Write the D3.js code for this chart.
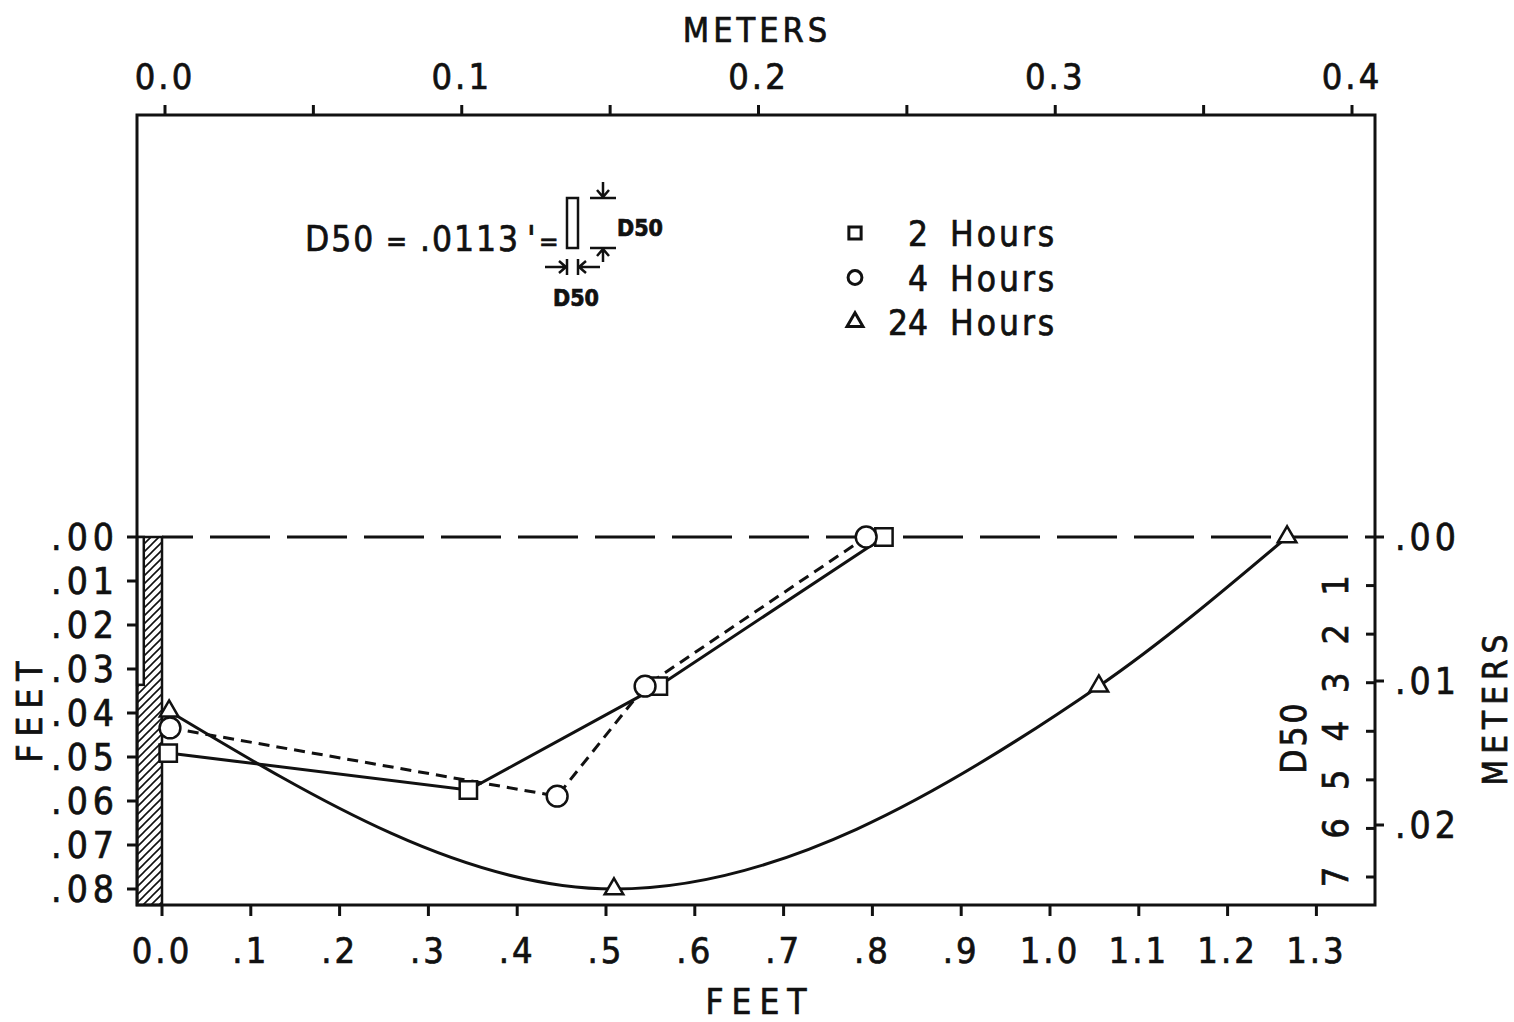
<!DOCTYPE html>
<html>
<head>
<meta charset="utf-8">
<script src="https://cdn.jsdelivr.net/npm/d3@7"></script>
<style>
  body { margin: 0; background: #fff; }
  text { font-family: "DejaVu Sans Condensed", "DejaVu Sans", sans-serif; fill: #111; stroke: #111; stroke-width: 0.7; }
</style>
</head>
<body>
<svg id="chart" width="1514" height="1022"></svg>
<script>

// bottom axis (feet, distance from wall)
var feetTicks = [0, 0.1, 0.2, 0.3, 0.4, 0.5, 0.6, 0.7, 0.8, 0.9, 1.0, 1.1, 1.2, 1.3];
var feetTickLabels = ["0.0", ".1", ".2", ".3", ".4", ".5", ".6", ".7", ".8", ".9", "1.0", "1.1", "1.2", "1.3"];

// top axis (meters)
var meterTicks = [0, 0.05, 0.1, 0.15, 0.2, 0.25, 0.3, 0.35, 0.4];
var meterTickLabels = ["0.0", "", "0.1", "", "0.2", "", "0.3", "", "0.4"];

// left axis (scour depth, feet)
var depthTicks = [0, 0.01, 0.02, 0.03, 0.04, 0.05, 0.06, 0.07, 0.08];
var depthTickLabels = [".00", ".01", ".02", ".03", ".04", ".05", ".06", ".07", ".08"];

// right axis: depth in D50 units and in meters
var d50Ticks = [1, 2, 3, 4, 5, 6, 7];
var depthMeterTicks = [0, 0.01, 0.02];
var depthMeterLabels = [".00", ".01", ".02"];

// scour profiles [distance ft, depth ft]
var hours2 = [[0.007, 0.0491], [0.345, 0.0575], [0.559, 0.0339], [0.813, 0.0]];
var hours4 = [[0.009, 0.0434], [0.445, 0.0589], [0.544, 0.0339], [0.793, 0.0]];
var hours24 = [[0.008, 0.0396], [0.509, 0.0800], [1.055, 0.0339], [1.267, 0.0]];

var legendNames = ["2", "4", "24"];
var wallWidth = 0.028, wallGapWidth = 0.0075, wallGapDepth = 0.0336;

var svg = d3.select("#chart");

var x = d3.scaleLinear().domain([0, 1.3]).range([162, 1316.4]);
var xm = d3.scaleLinear().domain([0, 0.4]).range([165, 1352]);
var y = d3.scaleLinear().domain([0, 0.08]).range([537, 889]);
var yD = d3.scaleLinear().domain([0, 7]).range([537, 877]);
var yM = d3.scaleLinear().domain([0, 0.02]).range([537, 825]);

var frame = { left: 137, right: 1375, top: 115, bottom: 905 };

// hatch pattern for the wall
var defs = svg.append("defs");
var pat = defs.append("pattern")
  .attr("id", "hatch").attr("patternUnits", "userSpaceOnUse")
  .attr("width", 8).attr("height", 8);
pat.append("path").attr("d", "M-2,10 L10,-2 M-2,2 L2,-2 M6,10 L10,6")
  .attr("stroke", "#111").attr("stroke-width", 1.6);

// wall
svg.append("rect")
  .attr("x", x(-wallWidth)).attr("y", y(0))
  .attr("width", x(0) - x(-wallWidth)).attr("height", frame.bottom - y(0))
  .attr("fill", "url(#hatch)").attr("stroke", "#111").attr("stroke-width", 2.5);
svg.append("rect")
  .attr("x", x(-wallWidth)).attr("y", y(0))
  .attr("width", x(-wallWidth + wallGapWidth) - x(-wallWidth)).attr("height", y(wallGapDepth) - y(0))
  .attr("fill", "#fff").attr("stroke", "#111").attr("stroke-width", 2.5);

// original bed level
svg.append("line")
  .attr("x1", x(0)).attr("x2", frame.right).attr("y1", y(0)).attr("y2", y(0))
  .attr("stroke", "#111").attr("stroke-width", 3)
  .attr("stroke-dasharray", "60,17").attr("stroke-dashoffset", 29);

// frame
svg.append("rect")
  .attr("x", frame.left).attr("y", frame.top)
  .attr("width", frame.right - frame.left).attr("height", frame.bottom - frame.top)
  .attr("fill", "none").attr("stroke", "#111").attr("stroke-width", 3);

// bottom axis
var gb = svg.append("g");
gb.selectAll("line").data(feetTicks).enter().append("line")
  .attr("x1", d => x(d)).attr("x2", d => x(d))
  .attr("y1", frame.bottom).attr("y2", frame.bottom + 11)
  .attr("stroke", "#111").attr("stroke-width", 3);
gb.selectAll("text").data(feetTicks).enter().append("text")
  .attr("x", d => x(d)).attr("y", 963)
  .attr("text-anchor", "middle").attr("font-size", 36).attr("letter-spacing", 3)
  .text((d, i) => feetTickLabels[i]);
svg.append("text").attr("x", 760).attr("y", 1014)
  .attr("text-anchor", "middle").attr("font-size", 35).attr("letter-spacing", 8)
  .text("FEET");

// top axis
var gt = svg.append("g");
gt.selectAll("line").data(meterTicks).enter().append("line")
  .attr("x1", d => xm(d)).attr("x2", d => xm(d))
  .attr("y1", frame.top).attr("y2", frame.top - 10)
  .attr("stroke", "#111").attr("stroke-width", 3);
gt.selectAll("text").data(meterTicks).enter().append("text")
  .attr("x", d => xm(d)).attr("y", 89)
  .attr("text-anchor", "middle").attr("font-size", 36).attr("letter-spacing", 3)
  .text((d, i) => meterTickLabels[i]);
svg.append("text").attr("x", 757).attr("y", 42)
  .attr("text-anchor", "middle").attr("font-size", 34).attr("letter-spacing", 4)
  .text("METERS");

// left axis
var gl = svg.append("g");
gl.selectAll("line").data(depthTicks).enter().append("line")
  .attr("x1", frame.left - 10).attr("x2", frame.left)
  .attr("y1", d => y(d)).attr("y2", d => y(d))
  .attr("stroke", "#111").attr("stroke-width", 3);
gl.selectAll("text").data(depthTicks).enter().append("text")
  .attr("x", 119).attr("y", d => y(d) + 13)
  .attr("text-anchor", "end").attr("font-size", 37).attr("letter-spacing", 5)
  .text((d, i) => depthTickLabels[i]);
svg.append("text")
  .attr("transform", "translate(42,708) rotate(-90)")
  .attr("text-anchor", "middle").attr("font-size", 35).attr("letter-spacing", 8)
  .text("FEET");

// right axis
var gr = svg.append("g");
gr.selectAll("line.d").data(d50Ticks).enter().append("line")
  .attr("x1", frame.right - 9).attr("x2", frame.right)
  .attr("y1", d => yD(d)).attr("y2", d => yD(d))
  .attr("stroke", "#111").attr("stroke-width", 3);
gr.selectAll("text.d").data(d50Ticks).enter().append("text")
  .attr("transform", d => "translate(" + (frame.right - 27) + "," + yD(d) + ") rotate(-90)")
  .attr("text-anchor", "middle").attr("font-size", 36)
  .text(d => d);
gr.selectAll("line.m").data(depthMeterTicks).enter().append("line")
  .attr("x1", frame.right).attr("x2", frame.right + 9)
  .attr("y1", d => yM(d)).attr("y2", d => yM(d))
  .attr("stroke", "#111").attr("stroke-width", 3);
gr.selectAll("text.m").data(depthMeterTicks).enter().append("text")
  .attr("x", 1395).attr("y", d => yM(d) + 13)
  .attr("font-size", 37).attr("letter-spacing", 4)
  .text((d, i) => depthMeterLabels[i]);
svg.append("text")
  .attr("transform", "translate(1306,737) rotate(-90)")
  .attr("text-anchor", "middle").attr("font-size", 35).attr("letter-spacing", 3)
  .text("D50");
svg.append("text")
  .attr("transform", "translate(1507,707) rotate(-90)")
  .attr("text-anchor", "middle").attr("font-size", 33).attr("letter-spacing", 6)
  .text("METERS");

// profiles
var line = d3.line().x(d => x(d[0])).y(d => y(d[1]));
svg.append("path").datum(hours2)
  .attr("d", line.curve(d3.curveLinear))
  .attr("fill", "none").attr("stroke", "#111").attr("stroke-width", 3);
svg.append("path").datum(hours4)
  .attr("d", line.curve(d3.curveLinear))
  .attr("fill", "none").attr("stroke", "#111").attr("stroke-width", 3)
  .attr("stroke-dasharray", "11,7");
svg.append("path").datum(hours24)
  .attr("d", line.curve(d3.curveMonotoneX))
  .attr("fill", "none").attr("stroke", "#111").attr("stroke-width", 3);

var symSquare = d3.symbol().type(d3.symbolSquare).size(300);
var symCircle = d3.symbol().type(d3.symbolCircle).size(340);
var symTriangle = d3.symbol().type(d3.symbolTriangle).size(150);

function drawMarkers(data, sym) {
  svg.append("g").selectAll("path").data(data).enter().append("path")
    .attr("transform", d => "translate(" + x(d[0]) + "," + y(d[1]) + ")")
    .attr("d", sym)
    .attr("fill", "#fff").attr("stroke", "#111").attr("stroke-width", 2.5);
}
drawMarkers(hours2, symSquare);
drawMarkers(hours4, symCircle);
drawMarkers(hours24, symTriangle);

// legend
var legendSyms = [
  d3.symbol().type(d3.symbolSquare).size(150),
  d3.symbol().type(d3.symbolCircle).size(150),
  d3.symbol().type(d3.symbolTriangle).size(110)
];
var lg = svg.append("g");
legendNames.forEach(function (n, i) {
  var cy = 233 + i * 44.5;
  lg.append("path").attr("transform", "translate(855," + cy + ")")
    .attr("d", legendSyms[i]).attr("fill", "#fff").attr("stroke", "#111").attr("stroke-width", 3);
  lg.append("text").attr("x", 928).attr("y", cy + 13)
    .attr("text-anchor", "end").attr("font-size", 35).text(n);
  lg.append("text").attr("x", 950).attr("y", cy + 13)
    .attr("font-size", 35).attr("letter-spacing", 3).text("Hours");
});

// D50 annotation
var an = svg.append("g");
[["D50", 305, 35], ["=", 386, 28], [".0113", 420, 35], ["'", 527, 35], ["=", 539, 26]].forEach(function (t) {
  an.append("text").attr("x", t[1]).attr("y", 251)
    .attr("font-size", t[2]).attr("letter-spacing", 2).text(t[0]);
});
an.append("rect").attr("x", 567).attr("y", 198).attr("width", 11).attr("height", 50)
  .attr("fill", "none").attr("stroke", "#111").attr("stroke-width", 2.5);
function seg(d) {
  an.append("path").attr("d", d)
    .attr("stroke", "#111").attr("stroke-width", 2.5).attr("fill", "none");
}
seg("M590,198 H616");
seg("M590,248 H616");
seg("M603,182 V197 M597,190 L603,197 L609,190");
seg("M603,262 V249 M597,256 L603,249 L609,256");
seg("M545,267 H566 M559,261 L566,267 L559,273");
seg("M600,267 H579 M586,261 L579,267 L586,273");
seg("M567,259 V275 M578,259 V275");
an.append("text").attr("x", 617).attr("y", 236)
  .attr("font-size", 23).attr("font-weight", "bold").text("D50");
an.append("text").attr("x", 576).attr("y", 306)
  .attr("text-anchor", "middle").attr("font-size", 23).attr("font-weight", "bold").text("D50");

</script>
</body>
</html>
